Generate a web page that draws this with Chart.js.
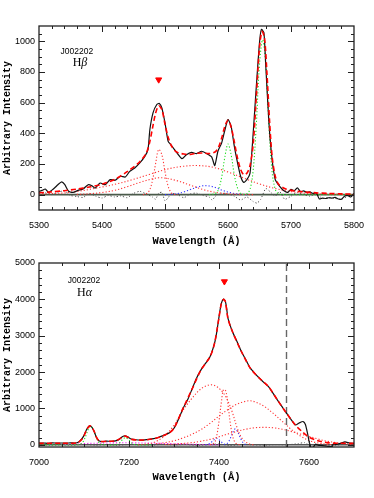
<!DOCTYPE html>
<html lang="en">
<head>
<meta charset="UTF-8">
<title>J002202 Hbeta / Halpha fits</title>
<script src="https://cdn.jsdelivr.net/npm/chart.js"></script>
<style>
  body { margin: 0; background: #fff; }
  .panel { position: absolute; left: 0; width: 374px; height: 249px; }
</style>
</head>
<body>
<div class="panel" style="top:0"><canvas id="hb" width="374" height="249"></canvas></div>
<div class="panel" style="top:249px"><canvas id="ha" width="374" height="249"></canvas></div>
<script>
// tick labels
const hbXTicks = [5300, 5400, 5500, 5600, 5700, 5800];
const hbYTicks = [0, 200, 400, 600, 800, 1000];
const haXTicks = [7000, 7200, 7400, 7600];
const haYTicks = [0, 1000, 2000, 3000, 4000, 5000];

// H-beta panel, [wavelength, intensity]
const hbObs = [[5300,20],[5305,28],[5310,37],[5315,15],[5320,28],[5325,45],[5330,65],[5336,83],[5341,65],[5347,22],
  [5354,15],[5362,28],[5370,37],[5378,65],[5384,58],[5389,43],[5397,76],[5405,65],[5413,98],[5421,94],[5429,120],
  [5437,115],[5444,152],[5452,174],[5460,207],[5468,250],[5473,294],[5476,425],[5481,534],[5487,588],[5491,595],
  [5495,566],[5500,468],[5505,348],[5509,327],[5513,305],[5519,272],[5527,235],[5534,261],[5542,276],[5550,268],
  [5558,283],[5566,268],[5574,246],[5579,190],[5584,283],[5590,338],[5595,420],[5600,490],[5605,446],[5610,316],
  [5615,210],[5620,120],[5625,80],[5630,98],[5635,141],[5640,402],[5645,708],[5650,991],[5653,1078],[5657,1057],
  [5660,838],[5665,468],[5670,229],[5675,98],[5680,65],[5685,40],[5690,22],[5695,15],[5700,35],[5705,25],[5710,45],
  [5715,20],[5720,25],[5725,15],[5730,18],[5735,8],[5740,12],[5745,-28],[5750,-22],[5755,-25],[5760,-20],[5765,-22],
  [5770,-18],[5775,-28],[5780,-30],[5785,-10],[5790,-5],[5795,-15],[5800,8]];
const hbFit = [[5300,12],[5320,18],[5340,26],[5360,36],[5380,50],[5400,68],[5420,100],[5440,150],[5460,215],[5470,270],
  [5475,330],[5480,430],[5485,530],[5490,580],[5495,555],[5500,460],[5505,375],[5510,320],[5515,290],[5520,275],
  [5530,265],[5540,262],[5550,270],[5560,272],[5570,268],[5580,280],[5585,310],[5590,370],[5595,445],[5600,485],
  [5605,440],[5610,345],[5615,240],[5620,165],[5625,130],[5630,140],[5635,190],[5640,330],[5645,640],[5650,960],
  [5654,1065],[5658,1020],[5662,780],[5666,480],[5670,250],[5675,120],[5680,70],[5690,40],[5700,28],[5720,18],
  [5740,12],[5760,8],[5780,5],[5800,4]];
const hbNarrow = [[5465,0],[5470,5],[5475,25],[5480,90],[5485,200],[5490,295],[5495,260],[5500,150],[5505,55],
  [5510,12],[5515,2],[5520,0]];
const hbBroad = [[5300,4],[5350,15],[5400,50],[5425,72],[5450,100],[5475,132],[5500,163],[5525,183],[5550,190],
  [5575,180],[5600,148],[5625,108],[5650,70],[5675,40],[5700,20],[5725,9],[5750,4],[5800,1]];
const hbMedium = [[5360,2],[5380,6],[5400,14],[5420,28],[5440,52],[5460,80],[5480,103],[5490,110],[5500,108],
  [5520,90],[5540,62],[5560,34],[5580,15],[5600,6],[5620,2],[5640,0]];
const hbBlue = [[5500,0],[5510,2],[5520,8],[5530,18],[5540,33],[5550,48],[5560,58],[5570,57],[5580,47],[5590,30],
  [5600,17],[5610,8],[5620,3],[5630,0]];
const hbGreen = [[5570,0],[5580,8],[5585,35],[5590,115],[5595,245],[5600,330],[5605,260],[5610,130],[5615,45],
  [5620,10],[5625,2],[5630,6],[5635,35],[5640,160],[5645,460],[5650,850],[5655,1010],[5660,850],[5665,450],
  [5670,150],[5675,35],[5680,6],[5690,0],[5800,0]];
const hbRes = [[5300,5],[5310,12],[5320,0],[5330,15],[5340,25],[5350,-5],[5360,-12],[5370,-18],[5380,8],[5390,-10],
  [5400,-22],[5410,-5],[5420,-15],[5430,-8],[5440,-20],[5450,8],[5460,22],[5470,5],[5480,-15],[5485,-30],[5490,10],
  [5495,15],[5500,-40],[5505,-20],[5510,8],[5520,0],[5530,-20],[5540,5],[5550,10],[5560,-5],[5570,-15],[5575,-35],
  [5580,-10],[5590,10],[5600,5],[5610,-10],[5620,-35],[5630,-15],[5640,-45],[5646,-55],[5652,-30],[5660,40],
  [5668,15],[5675,-10],[5682,20],[5690,-30],[5700,-10],[5710,15],[5720,0],[5730,-10],[5740,5],[5750,-25],
  [5760,-20],[5770,-25],[5780,-30],[5790,-10],[5800,5]];
const hbZero = [[5300,0],[5800,0]];
const hbMark = [[5490,750]];

// H-alpha panel, [wavelength, intensity]
const haObs = [[7000,45],[7010,50],[7020,40],[7030,55],[7040,45],[7050,50],[7060,45],[7070,55],[7080,50],[7088,80],
  [7095,160],[7100,260],[7105,400],[7110,500],[7113,520],[7117,490],[7122,380],[7128,200],[7133,110],[7140,90],
  [7150,100],[7160,95],[7170,110],[7178,150],[7185,220],[7191,250],[7197,220],[7205,160],[7215,140],[7225,130],
  [7235,135],[7245,150],[7255,170],[7265,200],[7275,250],[7290,330],[7300,455],[7310,700],[7320,1000],[7330,1230],
  [7340,1530],[7350,1830],[7360,2060],[7370,2240],[7380,2420],[7390,2790],[7395,3100],[7400,3520],[7405,3880],
  [7410,4010],[7414,3950],[7417,3750],[7420,3480],[7430,3110],[7440,2840],[7450,2560],[7460,2330],[7470,2100],
  [7480,1960],[7490,1830],[7500,1710],[7510,1600],[7520,1420],[7530,1230],[7540,1050],[7550,870],[7560,700],
  [7570,545],[7578,600],[7587,640],[7592,560],[7597,300],[7601,50],[7605,-80],[7610,-60],[7615,20],[7620,-10],
  [7630,-20],[7640,-40],[7650,-50],[7655,30],[7660,10],[7670,40],[7680,80],[7690,50],[7700,40]];
const haFit = [[7000,40],[7050,45],[7085,55],[7095,150],[7100,250],[7105,390],[7110,490],[7114,520],[7118,480],
  [7123,360],[7128,200],[7135,100],[7150,95],[7170,110],[7180,170],[7186,220],[7192,240],[7198,200],[7206,150],
  [7220,130],[7240,140],[7260,180],[7280,270],[7290,330],[7300,455],[7320,1000],[7340,1530],[7360,2060],
  [7380,2420],[7390,2790],[7400,3500],[7405,3870],[7410,4000],[7414,3940],[7420,3470],[7430,3110],[7450,2560],
  [7470,2100],[7490,1830],[7510,1600],[7530,1230],[7550,870],[7570,540],[7585,360],[7600,210],[7620,110],
  [7640,60],[7660,45],[7700,40]];
const haBroadL = [[7220,0],[7240,25],[7260,90],[7280,260],[7300,540],[7320,950],[7340,1280],[7360,1540],[7380,1650],
  [7395,1600],[7410,1420],[7420,1200],[7430,880],[7440,480],[7450,200],[7460,70],[7470,15],[7480,0]];
const haNarrow = [[7380,0],[7390,60],[7395,250],[7400,650],[7405,1150],[7410,1520],[7415,1480],[7420,1100],
  [7425,600],[7430,250],[7435,80],[7440,20],[7450,0]];
const haMid = [[7260,30],[7280,60],[7300,110],[7320,190],[7340,290],[7360,420],[7380,590],[7400,790],[7420,970],
  [7440,1120],[7460,1200],[7470,1210],[7480,1180],[7500,1060],[7520,870],[7540,650],[7560,430],[7580,250],
  [7600,120],[7620,50],[7640,15],[7660,0]];
const haWide = [[7280,10],[7300,20],[7340,60],[7360,100],[7380,150],[7400,220],[7420,300],[7440,370],[7460,430],
  [7480,470],[7500,480],[7520,470],[7540,430],[7560,370],[7580,300],[7600,230],[7620,160],[7640,100],[7660,60],
  [7680,30],[7700,15]];
const haBlue = [[7370,0],[7380,40],[7387,120],[7395,180],[7402,120],[7410,30],[7416,20],[7422,100],[7428,260],
  [7436,440],[7443,320],[7449,150],[7455,40],[7462,0]];
const haGreen = [[7000,0],[7085,0],[7095,40],[7100,130],[7105,280],[7110,440],[7115,510],[7120,440],[7125,280],
  [7130,130],[7135,40],[7145,0],[7170,0],[7178,40],[7185,140],[7192,200],[7200,130],[7207,40],[7215,0],[7250,0]];
const haMagenta = [[7050,0],[7080,20],[7100,35],[7150,50],[7200,55],[7250,45],[7300,30],[7350,12],[7400,0]];
const haRes = [[7000,8],[7025,-8],[7050,5],[7075,-6],[7100,12],[7125,-10],[7150,6],[7175,-12],[7200,10],[7225,0],
  [7250,-10],[7275,12],[7300,-5],[7325,10],[7350,-15],[7375,6],[7400,20],[7425,-20],[7450,10],[7475,0],[7500,-10],
  [7525,5],[7550,0],[7575,30],[7590,60],[7605,-40],[7625,10],[7650,-20],[7675,10],[7700,0]];
const haZero = [[7000,0],[7700,0]];
const haMark = [[7412,4490]];
const haCut = [[7550,-60],[7550,5000]];

const DOT = [1.2, 2];

function pts(arr) {
  return arr.map(p => ({ x: p[0], y: p[1] }));
}

function curve(arr, color, width, dash, order, tension) {
  return {
    data: pts(arr), showLine: true, borderColor: color, borderWidth: width,
    borderDash: dash || [], pointRadius: 0, tension: tension || 0, order: order
  };
}

function marker(arr) {
  return {
    data: pts(arr), showLine: false, pointStyle: 'triangle', rotation: 180, pointRadius: 3.5,
    backgroundColor: '#ff0000', borderColor: '#ff0000', borderWidth: 1, order: 0
  };
}

// frame with inward ticks on all four sides, plus the object / line label
const frame = {
  id: 'frame',
  afterDatasetsDraw(chart, args, o) {
    const ctx = chart.ctx;
    const a = chart.chartArea;
    const x = chart.scales.x, y = chart.scales.y;
    ctx.save();
    ctx.strokeStyle = '#222';
    ctx.lineWidth = 1;
    const seg = (x1, y1, x2, y2) => { ctx.beginPath(); ctx.moveTo(x1, y1); ctx.lineTo(x2, y2); ctx.stroke(); };
    for (let v = Math.ceil(x.min / o.xMinor) * o.xMinor; v <= x.max; v += o.xMinor) {
      if (v === x.min || v === x.max) continue;
      const px = Math.round(x.getPixelForValue(v)) + 0.5;
      const l = o.xTicks.includes(v) ? 6 : 3;
      seg(px, a.bottom, px, a.bottom - l);
      seg(px, a.top, px, a.top + l);
    }
    for (let v = Math.ceil(y.min / o.yMinor) * o.yMinor; v <= y.max; v += o.yMinor) {
      if (v === y.min || v === y.max) continue;
      const py = Math.round(y.getPixelForValue(v)) + 0.5;
      const l = o.yTicks.includes(v) ? 6 : 3;
      seg(a.left, py, a.left + l, py);
      seg(a.right, py, a.right - l, py);
    }
    ctx.lineWidth = 1.3;
    ctx.strokeRect(a.left, a.top, a.right - a.left, a.bottom - a.top);

    ctx.fillStyle = '#000';
    ctx.textBaseline = 'middle';
    ctx.textAlign = 'center';
    ctx.font = '8.5px "Liberation Sans"';
    ctx.fillText(o.name, x.getPixelForValue(o.nameAt[0]), y.getPixelForValue(o.nameAt[1]));
    ctx.font = '12px "Liberation Serif"';
    const w1 = ctx.measureText('H').width;
    ctx.font = 'italic 12px "Liberation Serif"';
    const w2 = ctx.measureText(o.greek).width;
    const cx = x.getPixelForValue(o.lineAt[0]) - (w1 + w2) / 2;
    const cy = y.getPixelForValue(o.lineAt[1]);
    ctx.textAlign = 'left';
    ctx.font = '12px "Liberation Serif"';
    ctx.fillText('H', cx, cy);
    ctx.font = 'italic 12px "Liberation Serif"';
    ctx.fillText(o.greek, cx + w1, cy);
    ctx.restore();
  }
};

function makeChart(id, c) {
  return new Chart(document.getElementById(id), {
    type: 'scatter',
    data: { datasets: c.datasets },
    options: {
      responsive: false,
      animation: false,
      devicePixelRatio: 1,
      layout: { padding: { top: c.top, right: 20, left: 0, bottom: 0 } },
      plugins: { legend: { display: false }, tooltip: { enabled: false }, frame: c.frame },
      scales: {
        x: {
          type: 'linear', min: c.xMin, max: c.xMax,
          afterBuildTicks: s => { s.ticks = c.frame.xTicks.map(v => ({ value: v })); },
          afterFit: s => { s.height = c.xHeight; },
          grid: { display: false, drawTicks: false, tickLength: 0 }, border: { display: false },
          ticks: { autoSkip: false, maxRotation: 0, padding: 10, color: '#000',
                   font: { family: 'Liberation Sans', size: 9 }, callback: v => String(v) },
          title: { display: true, text: 'Wavelength (Å)', color: '#000',
                   font: { family: 'Liberation Mono', size: 10.5, weight: 'bold' },
                   padding: { top: 0, bottom: c.titlePad } }
        },
        y: {
          type: 'linear', min: c.yMin, max: c.yMax,
          afterBuildTicks: s => { s.ticks = c.frame.yTicks.map(v => ({ value: v })); },
          afterFit: s => { s.width = 39; },
          grid: { display: false, drawTicks: false, tickLength: 0 }, border: { display: false },
          ticks: { autoSkip: false, padding: 4, color: '#000',
                   font: { family: 'Liberation Sans', size: 9 }, callback: v => String(v) },
          title: { display: true, text: 'Arbitrary Intensity', color: '#000',
                   font: { family: 'Liberation Mono', size: 10, weight: 'bold' },
                   padding: { top: 1, bottom: 0 } }
        }
      }
    },
    plugins: [frame]
  });
}

const RED = '#ff0000';
const REDDOT = '#ff3535';

makeChart('hb', {
  xMin: 5300, xMax: 5800, yMin: -100, yMax: 1100, top: 26, xHeight: 39, titlePad: 1,
  frame: { xTicks: hbXTicks, yTicks: hbYTicks, xMinor: 20, yMinor: 50,
           name: 'J002202', nameAt: [5360, 935], greek: 'β', lineAt: [5365, 862] },
  datasets: [
    marker(hbMark),
    curve(hbFit, RED, 1.6, [5, 3], 1, 0.3),
    curve(hbObs, '#111', 1.2, [], 2, 0.2),
    curve(hbGreen, '#22dd22', 1.1, DOT, 3, 0.35),
    curve(hbNarrow, REDDOT, 1.1, DOT, 4, 0.35),
    curve(hbBroad, REDDOT, 1.1, DOT, 4, 0.35),
    curve(hbMedium, REDDOT, 1.1, DOT, 4, 0.35),
    curve(hbBlue, '#3333ff', 1.1, DOT, 5, 0.35),
    curve(hbZero, '#4a5a4a', 1.6, [], 7, 0),
    curve(hbRes, '#555', 1, DOT, 6, 0.2)
  ]
});

makeChart('ha', {
  xMin: 7000, xMax: 7700, yMin: -60, yMax: 5000, top: 14, xHeight: 51, titlePad: 14,
  frame: { xTicks: haXTicks, yTicks: haYTicks, xMinor: 50, yMinor: 200,
           name: 'J002202', nameAt: [7100, 4505], greek: 'α', lineAt: [7101, 4175] },
  datasets: [
    marker(haMark),
    curve(haFit, RED, 1.6, [5, 3], 1, 0.3),
    curve(haObs, '#111', 1.2, [], 2, 0.2),
    curve(haCut, '#666', 1.4, [7, 4], 3, 0),
    curve(haGreen, '#22dd22', 1.1, DOT, 4, 0.35),
    curve(haBroadL, REDDOT, 1.1, DOT, 5, 0.35),
    curve(haNarrow, REDDOT, 1.1, DOT, 5, 0.35),
    curve(haMid, REDDOT, 1.1, DOT, 5, 0.35),
    curve(haWide, REDDOT, 1.1, DOT, 5, 0.35),
    curve(haBlue, '#3333ff', 1.1, DOT, 6, 0.35),
    curve(haMagenta, '#ee22ee', 1.1, DOT, 6, 0.35),
    curve(haZero, '#555', 1.6, [], 8, 0),
    curve(haRes, '#555', 1, DOT, 7, 0.2)
  ]
});
</script>
</body>
</html>
